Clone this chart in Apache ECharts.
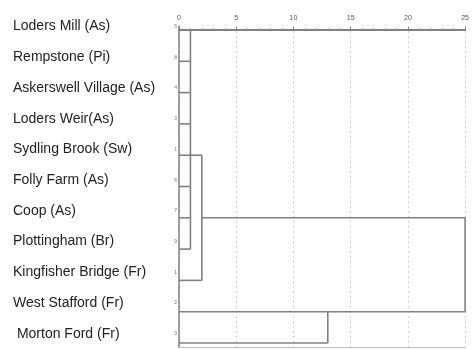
<!DOCTYPE html>
<html>
<head>
<meta charset="utf-8">
<script src="https://cdn.jsdelivr.net/npm/echarts@6/dist/echarts.min.js"></script>
<style>
html,body{margin:0;padding:0;background:#fff;}
#chart{width:472px;height:349px;}
</style>
</head>
<body>
<div id="chart"></div>
<script>
// Leaf labels (top to bottom)
const labels = [
  "Loders Mill (As)",
  "Rempstone (Pi)",
  "Askerswell Village (As)",
  "Loders Weir(As)",
  "Sydling Brook (Sw)",
  "Folly Farm (As)",
  "Coop (As)",
  "Plottingham (Br)",
  "Kingfisher Bridge (Fr)",
  "West Stafford (Fr)",
  " Morton Ford (Fr)"
];
// SPSS case numbers beside each leaf
const caseNumbers = ["5", "8", "4", "3", "1", "6", "7", "9", "1", "2", "3"];
// Rescaled distance axis ticks
const xTicks = [0, 5, 10, 15, 20, 25];
// Cluster structure: leaves are 0..10, clusters are 11..14
const clusterChildren = [[0, 1, 2, 3, 4, 5, 6, 7], [11, 8], [9, 10], [12, 13]];
const clusterDistance = [1.0, 2.0, 13.0, 25.0];
const clusterRow = [4, 6, 9, 7.5];

const nLeaves = labels.length;
function nodeX(id) { return id < nLeaves ? 0 : clusterDistance[id - nLeaves]; }
function nodeRow(id) { return id < nLeaves ? id : clusterRow[id - nLeaves]; }

const segments = [];
clusterChildren.forEach(function (children, k) {
  const d = clusterDistance[k];
  let rmin = Infinity, rmax = -Infinity;
  children.forEach(function (c) {
    const r = nodeRow(c);
    segments.push([nodeX(c), r, d, r]);
    rmin = Math.min(rmin, r); rmax = Math.max(rmax, r);
  });
  segments.push([d, rmin, d, rmax]);
});

const chart = echarts.init(document.getElementById('chart'), null, {renderer: 'canvas'});
const font = "'Liberation Sans', Arial, sans-serif";
chart.setOption({
  animation: false,
  backgroundColor: '#ffffff',
  grid: [
    {left: 179, right: 4, top: 26, bottom: 2},
    {left: 179, right: 4, top: 11.25, height: 347.6}
  ],
  xAxis: [
    {
      type: 'value', gridIndex: 0, position: 'top',
      min: xTicks[0], max: xTicks[xTicks.length - 1], interval: 5,
      axisLine: {show: true, lineStyle: {color: '#808080', width: 2}},
      axisTick: {show: true, length: 3, lineStyle: {color: '#808080'}},
      minorTick: {show: true, splitNumber: 5, length: 2, lineStyle: {color: '#aaaaaa'}},
      axisLabel: {fontSize: 7, color: '#555555', margin: 4, fontFamily: font},
      splitLine: {show: true, lineStyle: {color: '#cfcfcf', type: [2, 3], width: 1}}
    },
    {
      type: 'value', gridIndex: 0, position: 'bottom',
      min: xTicks[0], max: xTicks[xTicks.length - 1],
      axisLine: {show: true, onZero: false, lineStyle: {color: '#bbbbbb', width: 1}},
      axisTick: {show: false}, axisLabel: {show: false}, splitLine: {show: false}
    },
    {type: 'value', gridIndex: 1, show: false, min: 0, max: 25}
  ],
  yAxis: [
    {
      type: 'value', gridIndex: 0, inverse: true, min: -0.128, max: 10.128,
      axisLine: {show: true, lineStyle: {color: '#808080', width: 1.5}},
      axisTick: {show: false}, axisLabel: {show: false}, splitLine: {show: false}
    },
    {
      type: 'category', gridIndex: 1, position: 'left', offset: 0, inverse: true, data: labels,
      axisLine: {show: false}, axisTick: {show: false}, splitLine: {show: false},
      axisLabel: {interval: 0, align: 'left', margin: 166, fontSize: 14, color: '#222222', fontFamily: font}
    },
    {
      type: 'category', gridIndex: 1, position: 'left', offset: 0, inverse: true, data: caseNumbers,
      axisLine: {show: false}, axisTick: {show: false}, splitLine: {show: false},
      axisLabel: {interval: 0, margin: 2, fontSize: 5, color: '#777777', fontFamily: font}
    }
  ],
  series: [{
    type: 'custom',
    xAxisIndex: 0, yAxisIndex: 0,
    clip: false,
    data: segments,
    encode: {x: [0, 2], y: [1, 3]},
    renderItem: function (params, api) {
      const p1 = api.coord([api.value(0), api.value(1)]);
      const p2 = api.coord([api.value(2), api.value(3)]);
      return {
        type: 'line',
        shape: {x1: p1[0], y1: p1[1], x2: p2[0], y2: p2[1]},
        style: {stroke: '#808080', lineWidth: 1.6}
      };
    }
  }]
});
</script>
</body>
</html>
